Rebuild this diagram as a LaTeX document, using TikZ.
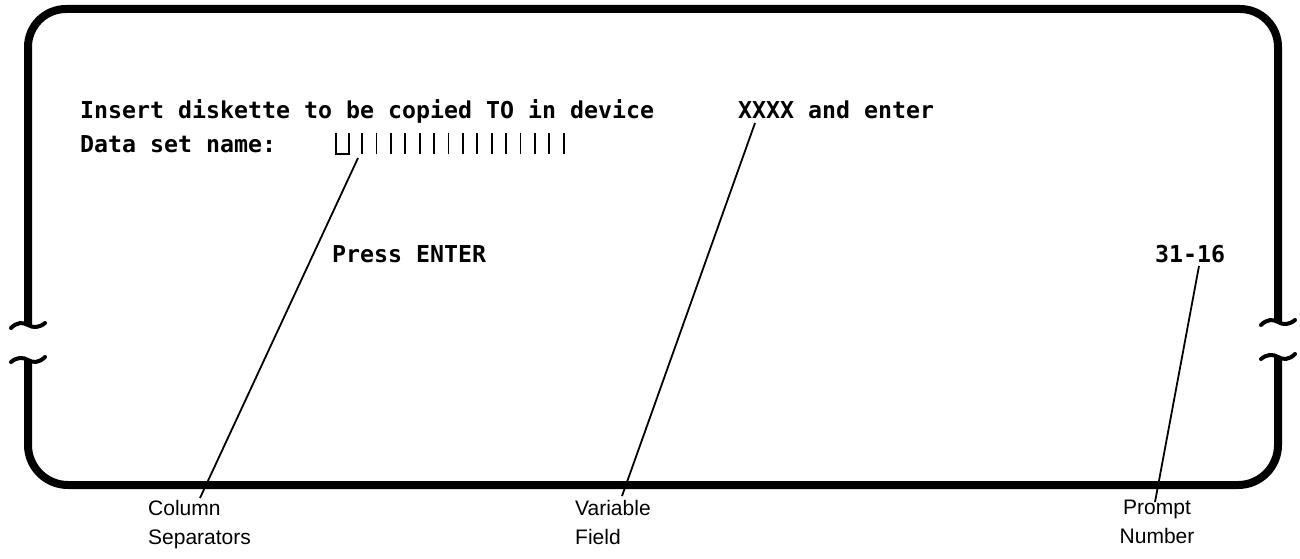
\documentclass[tikz,border=0pt]{standalone}
\usepackage{fontspec}
\setmainfont{Liberation Sans}
\newfontfamily\scrfont{DejaVu Sans Mono}
\begin{document}
\begin{tikzpicture}[x=1pt,y=-1pt,
  frame/.style={line width=8pt, line join=round},
  wave/.style={line width=4pt, line cap=round},
  leader/.style={line width=1.8pt},
  sep/.style={line width=1.8pt},
  screen/.style={font=\scrfont\bfseries\fontsize{23.25}{26}\selectfont, anchor=base west, inner sep=0pt},
  lab/.style={font=\fontsize{21}{29}\selectfont, align=center, anchor=north, inner sep=0pt}]
\useasboundingbox (0,0) rectangle (1300,559);
% frame
\draw[frame, rounded corners=38pt] (28,325) -- (28,9) -- (1278,9) -- (1278,322);
\draw[frame, rounded corners=40pt] (28,360) -- (28,485) -- (1278,485) -- (1278,357);
% break marks
\draw[wave] (11,328) .. controls (17,322) and (23,322) .. (28,325) .. controls (33,328) and (39,328) .. (45,323);
\draw[wave] (11,362) .. controls (17,357) and (23,357) .. (28,360) .. controls (33,363) and (39,363) .. (45,357);
\draw[wave] (1261,325) .. controls (1267,319) and (1273,319) .. (1278,322) .. controls (1283,325) and (1289,325) .. (1295,320);
\draw[wave] (1261,359) .. controls (1267,354) and (1273,354) .. (1278,357) .. controls (1283,360) and (1289,360) .. (1295,354);
% screen texts
\node[screen] (l1) at (80,118) {Insert diskette to be copied TO in device};
\node[screen] (xx) at (738,118) {XXXX and enter};
\node[screen] (l2) at (80,153) {Data set name:};
\node[screen] (pe) at (332,262) {Press ENTER};
\node[screen] (pn) at (1155,262) {31-16};
% column separators
\draw[sep] (336,133) -- (336,154) -- (349,154) -- (349,133);
\foreach \i in {0,...,14} {\draw[sep] (362+14.4*\i,133) -- (362+14.4*\i,154);}
\coordinate (cs) at (358,158);
\coordinate (vf) at (755,123);
\coordinate (pr) at (1199,266);
% labels
\node[lab, anchor=north west, align=left] (csl) at (148,500) {Column\\Separators};
\node[lab, anchor=north west, align=left] (vfl) at (575,500) {Variable\\Field};
\node[lab] (prl) at (1157,500) {Prompt\\Number};
\coordinate (cse) at (200,498);
\coordinate (vfe) at (622,496);
\coordinate (pre) at (1155,502);
\draw[leader] (cs) -- (cse);
\draw[leader] (vf) -- (vfe);
\draw[leader] (pr) -- (pre);
\end{tikzpicture}
\end{document}
